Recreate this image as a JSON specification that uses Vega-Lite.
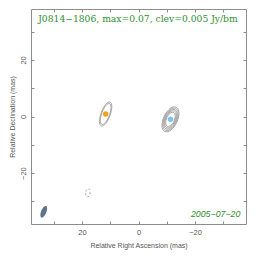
{
  "$schema": "https://vega.github.io/schema/vega-lite/v6.json",
  "width": 215,
  "height": 215,
  "autosize": {"type": "none"},
  "padding": {"left": 31, "top": 9, "right": 18, "bottom": 38},
  "background": "white",
  "config": {
    "view": {"stroke": "#8c8c8c", "strokeWidth": 1},
    "axis": {
      "grid": false, "domain": false, "tickColor": "#8c8c8c", "tickSize": -3, "tickWidth": 1,
      "labelFont": "Liberation Sans", "labelFontSize": 7.5, "labelColor": "#555555",
      "titleFont": "Liberation Sans", "titleFontSize": 7, "titleFontWeight": "normal", "titleColor": "#555555"
    }
  },
  "datasets": {
    "orange": [
      {"ra": 11.6, "dec": 0.9, "a": 4.5, "tilt": 20},
      {"ra": 11.6, "dec": 0.9, "a": 3.9, "tilt": 20}
    ],
    "blue": [
      {"ra": -11.3, "dec": -1.0, "a": 4.75, "tilt": 25},
      {"ra": -11.3, "dec": -1.0, "a": 4.25, "tilt": 25},
      {"ra": -11.3, "dec": -1.0, "a": 3.75, "tilt": 25},
      {"ra": -11.3, "dec": -1.0, "a": 3.25, "tilt": 25},
      {"ra": -11.3, "dec": -1.0, "a": 2.7, "tilt": 25}
    ],
    "neg": [{"ra": 17.9, "dec": -27.0, "a": 1.45, "tilt": 8}],
    "beam": [{"ra": 33.5, "dec": -33.7, "a": 2.2, "tilt": 22}],
    "comps": [
      {"ra": 11.6, "dec": 0.9, "comp": "C1"},
      {"ra": -11.3, "dec": -1.0, "comp": "C0"}
    ],
    "title": [{"ra": 0.2, "dec": 34.3, "txt": "J0814−1806, max=0.07, clev=0.005 Jy/bm"}],
    "date": [{"ra": -36, "dec": -34.6, "txt": "2005−07−20"}]
  },
  "layer": [
    {
      "data": {"name": "orange"},
      "mark": {"type": "point", "shape": "M0,-1A0.36,1 0 1,1 0,1A0.36,1 0 1,1 0,-1Z", "filled": false, "stroke": "#9a9a9a", "strokeWidth": 0.8, "opacity": 1},
      "encoding": {
        "x": {"field": "ra", "type": "quantitative", "scale": {"domain": [38, -38], "nice": false, "zero": false},
          "axis": {"orient": "bottom", "values": [-30, -20, -10, 0, 10, 20, 30], "labelExpr": "datum.value % 20 == 0 ? datum.label : ''", "labelPadding": 7, "title": "Relative Right Ascension (mas)", "titlePadding": 6}},
        "y": {"field": "dec", "type": "quantitative", "scale": {"domain": [-38, 38], "nice": false, "zero": false},
          "axis": {"orient": "left", "values": [-30, -20, -10, 0, 10, 20, 30], "labelExpr": "datum.value % 20 == 0 ? datum.label : ''", "labelAngle": -90, "labelAlign": "center", "labelBaseline": "bottom", "labelPadding": 7, "title": "Relative Declination (mas)", "titlePadding": 4}},
        "size": {"field": "a", "type": "quantitative", "scale": {"type": "pow", "exponent": 2, "domain": [0, 10], "range": [0, 3195]}, "legend": null},
        "angle": {"field": "tilt", "type": "quantitative", "scale": {"domain": [0, 360], "range": [0, 360]}, "legend": null}
      }
    },
    {
      "data": {"name": "blue"},
      "mark": {"type": "point", "shape": "M0,-1A0.52,1 0 1,1 0,1A0.52,1 0 1,1 0,-1Z", "filled": false, "stroke": "#9a9a9a", "strokeWidth": 0.8, "opacity": 1},
      "encoding": {
        "x": {"field": "ra", "type": "quantitative", "scale": {"domain": [38, -38], "nice": false, "zero": false},
          "axis": {"orient": "top", "values": [-30, -20, -10, 0, 10, 20, 30], "labels": false, "title": null}},
        "y": {"field": "dec", "type": "quantitative", "scale": {"domain": [-38, 38], "nice": false, "zero": false},
          "axis": {"orient": "right", "values": [-30, -20, -10, 0, 10, 20, 30], "labels": false, "title": null}},
        "size": {"field": "a", "type": "quantitative", "scale": {"type": "pow", "exponent": 2, "domain": [0, 10], "range": [0, 3195]}, "legend": null},
        "angle": {"field": "tilt", "type": "quantitative", "scale": {"domain": [0, 360], "range": [0, 360]}, "legend": null}
      }
    },
    {
      "data": {"name": "neg"},
      "mark": {"type": "point", "shape": "M0,-1A0.55,1 0 1,1 0,1A0.55,1 0 1,1 0,-1Z", "filled": false, "stroke": "#9a9a9a", "strokeWidth": 0.8, "strokeDash": [2, 2], "opacity": 1},
      "encoding": {
        "x": {"field": "ra", "type": "quantitative", "axis": null},
        "y": {"field": "dec", "type": "quantitative", "axis": null},
        "size": {"field": "a", "type": "quantitative", "scale": {"type": "pow", "exponent": 2, "domain": [0, 10], "range": [0, 3195]}, "legend": null},
        "angle": {"field": "tilt", "type": "quantitative", "scale": {"domain": [0, 360], "range": [0, 360]}, "legend": null}
      }
    },
    {
      "data": {"name": "beam"},
      "mark": {"type": "point", "shape": "M0,-1A0.42,1 0 1,1 0,1A0.42,1 0 1,1 0,-1Z", "filled": true, "fill": "#5e738c", "opacity": 1},
      "encoding": {
        "x": {"field": "ra", "type": "quantitative", "axis": null},
        "y": {"field": "dec", "type": "quantitative", "axis": null},
        "size": {"field": "a", "type": "quantitative", "scale": {"type": "pow", "exponent": 2, "domain": [0, 10], "range": [0, 3195]}, "legend": null},
        "angle": {"field": "tilt", "type": "quantitative", "scale": {"domain": [0, 360], "range": [0, 360]}, "legend": null}
      }
    },
    {
      "data": {"name": "comps"},
      "mark": {"type": "point", "shape": "circle", "filled": true, "opacity": 1},
      "encoding": {
        "x": {"field": "ra", "type": "quantitative", "axis": null},
        "y": {"field": "dec", "type": "quantitative", "axis": null},
        "color": {"field": "comp", "type": "nominal", "scale": {"domain": ["C0", "C1"], "range": ["#7cc4f4", "#f7a21b"]}, "legend": null}
      }
    },
    {
      "data": {"name": "title"},
      "mark": {"type": "text", "font": "DejaVu Serif", "fontSize": 9.2, "color": "#2f8f2f", "align": "center", "baseline": "middle"},
      "encoding": {
        "x": {"field": "ra", "type": "quantitative", "axis": null},
        "y": {"field": "dec", "type": "quantitative", "axis": null},
        "text": {"field": "txt"}
      }
    },
    {
      "data": {"name": "date"},
      "mark": {"type": "text", "font": "Liberation Sans", "fontSize": 8.8, "fontStyle": "italic", "color": "#2f8f2f", "align": "right", "baseline": "middle"},
      "encoding": {
        "x": {"field": "ra", "type": "quantitative", "axis": null},
        "y": {"field": "dec", "type": "quantitative", "axis": null},
        "text": {"field": "txt"}
      }
    }
  ],
  "resolve": {"axis": {"x": "independent", "y": "independent"}}
}
